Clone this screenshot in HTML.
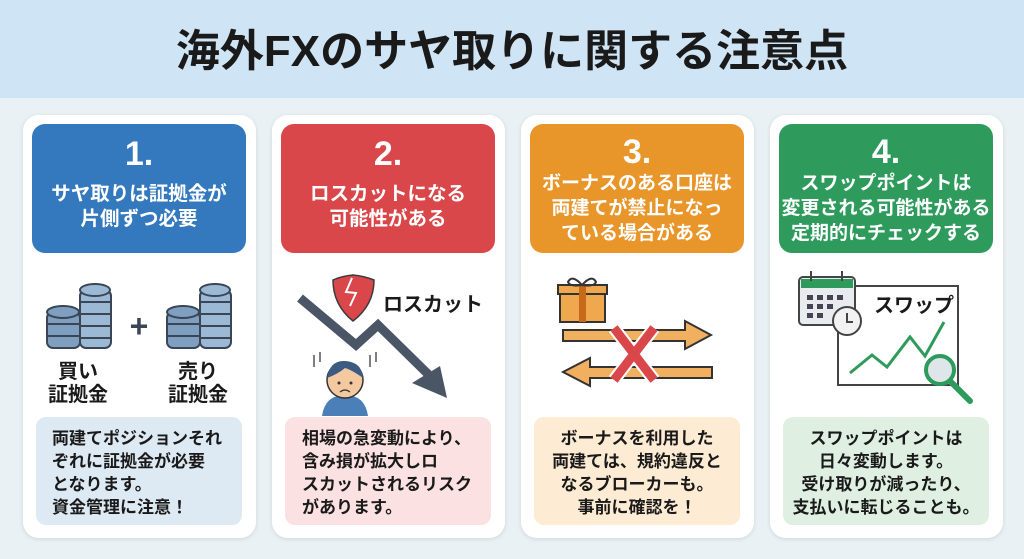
<!DOCTYPE html>
<html><head><meta charset="utf-8">
<style>
html,body{margin:0;padding:0;width:1024px;height:559px;overflow:hidden;background:#e9f1f5}
svg{display:block}
text{font-family:"Liberation Sans","Noto Sans CJK JP",sans-serif;font-weight:bold}
</style></head><body>
<svg width="1024" height="559" viewBox="0 0 1024 559" xmlns="http://www.w3.org/2000/svg">
<defs>
<filter id="sh" x="-10%" y="-10%" width="120%" height="120%"><feDropShadow dx="0" dy="1" stdDeviation="2" flood-color="#000" flood-opacity="0.12"/></filter>
</defs>
<rect x="0" y="0" width="1024" height="559" fill="#e9f1f5"/>
<rect x="0" y="0" width="1024" height="98" fill="#cfe4f4"/>
<text x="512" y="66" font-size="44" text-anchor="middle" fill="#1a1a1a">海外FXのサヤ取りに関する注意点</text>

<g filter="url(#sh)">
<rect x="23" y="115" width="233" height="423" rx="16" fill="#fff"/>
<rect x="272" y="115" width="233" height="423" rx="16" fill="#fff"/>
<rect x="521" y="115" width="233" height="423" rx="16" fill="#fff"/>
<rect x="770" y="115" width="233" height="423" rx="16" fill="#fff"/>
</g>
<rect x="32" y="124" width="214" height="129" rx="13" fill="#3479bd"/>
<rect x="281" y="124" width="214" height="129" rx="13" fill="#d9474a"/>
<rect x="530" y="124" width="214" height="129" rx="13" fill="#e8952a"/>
<rect x="779" y="124" width="214" height="129" rx="13" fill="#2e9b5c"/>

<g fill="#fff" text-anchor="middle">
<text x="139" y="165" font-size="34">1.</text>
<text x="139" y="200" font-size="19.5">サヤ取りは証拠金が</text>
<text x="139" y="225" font-size="19.5">片側ずつ必要</text>
<text x="388" y="165" font-size="34">2.</text>
<text x="388" y="200" font-size="19.5">ロスカットになる</text>
<text x="388" y="225" font-size="19.5">可能性がある</text>
<text x="637" y="163" font-size="34">3.</text>
<text x="637" y="189" font-size="19">ボーナスのある口座は</text>
<text x="637" y="214" font-size="19">両建てが禁止になっ</text>
<text x="637" y="239" font-size="19">ている場合がある</text>
<text x="886" y="163" font-size="34">4.</text>
<text x="886" y="189" font-size="19">スワップポイントは</text>
<text x="886" y="214" font-size="19">変更される可能性がある</text>
<text x="886" y="239" font-size="19">定期的にチェックする</text>
</g>

<rect x="36" y="417" width="206" height="108" rx="10" fill="#dde9f3"/>
<rect x="285" y="417" width="206" height="108" rx="10" fill="#fbe1e1"/>
<rect x="534" y="417" width="206" height="108" rx="10" fill="#fdebd3"/>
<rect x="783" y="417" width="206" height="108" rx="10" fill="#dfefe1"/>
<g fill="#1a1a1a" font-size="17">
<text x="52" y="444">両建てポジションそれ</text>
<text x="52" y="467">ぞれに証拠金が必要</text>
<text x="52" y="490">となります。</text>
<text x="52" y="513">資金管理に注意！</text>
<text x="302" y="444">相場の急変動により、</text>
<text x="302" y="467">含み損が拡大しロ</text>
<text x="302" y="490">スカットされるリスク</text>
<text x="302" y="513">があります。</text>
</g>
<g fill="#1a1a1a" font-size="17" text-anchor="middle">
<text x="637" y="444">ボーナスを利用した</text>
<text x="637" y="467">両建ては、規約違反と</text>
<text x="637" y="490">なるブローカーも。</text>
<text x="637" y="513">事前に確認を！</text>
<text x="886" y="444">スワップポイントは</text>
<text x="886" y="467">日々変動します。</text>
<text x="886" y="490">受け取りが減ったり、</text>
<text x="886" y="513">支払いに転じることも。</text>
</g>

<g stroke="#3a4656" stroke-width="2">
<g fill="#7f9fc0">
<rect x="47" y="312" width="33" height="36" rx="6"/>
<ellipse cx="63" cy="312" rx="16" ry="6"/>
<rect x="80" y="290" width="31" height="58" rx="6" fill="#9bb8d4"/>
<ellipse cx="95" cy="290" rx="15" ry="6" fill="#9bb8d4"/>
<rect x="167" y="312" width="33" height="36" rx="6"/>
<ellipse cx="183" cy="312" rx="16" ry="6"/>
<rect x="200" y="290" width="31" height="58" rx="6" fill="#9bb8d4"/>
<ellipse cx="215" cy="290" rx="15" ry="6" fill="#9bb8d4"/>
</g>
<path d="M47 324h33M47 336h33M80 302h31M80 314h31M80 326h31M80 338h31M167 324h33M167 336h33M200 302h31M200 314h31M200 326h31M200 338h31" fill="none"/>
</g>
<text x="139" y="337" font-size="32" text-anchor="middle" fill="#3a4656">+</text>
<g fill="#1a1a1a" font-size="20" text-anchor="middle">
<text x="78" y="378">買い</text>
<text x="78" y="401">証拠金</text>
<text x="198" y="378">売り</text>
<text x="198" y="401">証拠金</text>
</g>

<polyline points="300,298 356,345 378,325 432,378" fill="none" stroke="#4a5566" stroke-width="9" stroke-linejoin="miter"/>
<polygon points="412,383 440,366 447,398" fill="#4a5566"/>
<path d="M333 280 Q342 276 353 275 Q364 276 374 280 Q374 305 353 321 Q333 305 333 280Z" fill="#d9474a" stroke="#3a3a3a" stroke-width="1.5"/>
<path d="M352 278 L346 292 L356 293 L350 306" fill="none" stroke="#fff" stroke-width="2"/>
<text x="383" y="311" font-size="20" fill="#1a1a1a">ロスカット</text>
<path d="M322 416 Q325 395 345 395 Q365 395 368 416Z" fill="#4a7fb8"/>
<circle cx="345" cy="380" r="18" fill="#f4c9a0" stroke="#333" stroke-width="1.5"/>
<path d="M327 378 Q330 360 345 361 Q362 362 363 378 Q352 370 345 368 Q338 374 327 378Z" fill="#3d5a80"/>
<circle cx="339" cy="383" r="1.5" fill="#333"/><circle cx="351" cy="383" r="1.5" fill="#333"/>
<path d="M340 392 Q345 388 350 392" fill="none" stroke="#333" stroke-width="1.2"/>
<path d="M314 355v12M320 352v10M370 355v12M376 352v10" stroke="#555" stroke-width="1.5"/>

<rect x="560" y="291" width="45" height="31" fill="#f0a84e" stroke="#333" stroke-width="2"/>
<rect x="558" y="285" width="49" height="9" fill="#f0a84e" stroke="#333" stroke-width="2"/>
<rect x="579" y="285" width="7" height="37" fill="#c66a1a"/>
<path d="M582 285 Q572 274 568 282 Q570 287 582 285 Q592 274 596 282 Q594 287 582 285" fill="none" stroke="#333" stroke-width="2"/>
<polygon points="563,330 685,330 685,321 711,335 685,349 685,341 563,341" fill="#f0b060" stroke="#333" stroke-width="2"/>
<polygon points="712,367 590,367 590,358 563,372 590,386 590,378 712,378" fill="#f0b060" stroke="#333" stroke-width="2"/>
<path d="M614 328 L654 380 M654 328 L614 380" stroke="#fff" stroke-width="13"/>
<path d="M614 328 L654 380 M654 328 L614 380" stroke="#d9474a" stroke-width="9"/>

<polyline points="838,286 958,286 958,385 838,385 838,330" fill="none" stroke="#444" stroke-width="2"/>
<rect x="799" y="277" width="56" height="48" rx="4" fill="#e8ecef" stroke="#444" stroke-width="2"/>
<path d="M801 279h52v9h-52z" fill="#2e9b5c"/>
<path d="M811 271v10M842 271v10" stroke="#444" stroke-width="2"/>
<g fill="#445">
<rect x="807" y="295" width="6" height="5"/><rect x="817" y="295" width="6" height="5"/><rect x="827" y="295" width="6" height="5"/><rect x="837" y="295" width="6" height="5"/>
<rect x="807" y="304" width="6" height="5"/><rect x="817" y="304" width="6" height="5"/><rect x="827" y="304" width="6" height="5"/>
<rect x="807" y="313" width="6" height="5"/><rect x="817" y="313" width="6" height="5"/>
</g>
<circle cx="847" cy="321" r="14" fill="#f2f2f2" stroke="#444" stroke-width="2"/>
<path d="M847 313v9h6" fill="none" stroke="#444" stroke-width="2"/>
<text x="874" y="312" font-size="20" fill="#1a1a1a">スワップ</text>
<polyline points="850,373 872,355 887,367 910,337 925,356 944,322" fill="none" stroke="#2e9b5c" stroke-width="3"/>
<line x1="951" y1="382" x2="970" y2="401" stroke="#2e9b5c" stroke-width="6" stroke-linecap="round"/>
<circle cx="940" cy="370" r="14" fill="#dfe6ea" stroke="#2e9b5c" stroke-width="4"/>
</svg>
</body></html>
